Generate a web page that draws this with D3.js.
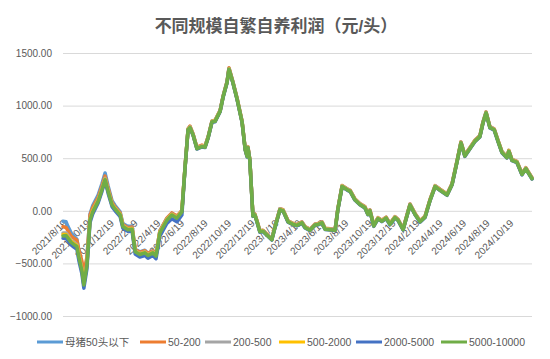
<!DOCTYPE html>
<html><head><meta charset="utf-8">
<script src="https://cdn.jsdelivr.net/npm/d3@7"></script>
<style>
body{margin:0;background:#fff}
svg{display:block}
text{font-family:"Liberation Sans","Noto Sans CJK SC",sans-serif}
</style>
</head><body><svg id="c" width="550" height="359"></svg>
<script>
const dates = [
"2021-08-19","2021-08-27","2021-09-01","2021-09-09","2021-09-16","2021-09-24","2021-09-29","2021-10-07","2021-10-12","2021-10-20",
"2021-10-28","2021-11-04","2021-11-18","2021-11-28","2021-12-06","2021-12-14","2021-12-24","2022-01-01","2022-01-14","2022-01-21",
"2022-02-03","2022-02-14","2022-02-22","2022-03-06","2022-03-19","2022-03-27","2022-04-09","2022-04-17","2022-04-27","2022-05-15",
"2022-05-28","2022-06-10","2022-06-23","2022-07-01","2022-07-09","2022-07-14","2022-07-22","2022-08-01","2022-08-14","2022-08-22",
"2022-08-30","2022-09-09","2022-09-17","2022-09-30","2022-10-08","2022-10-18","2022-10-23","2022-11-02","2022-11-13","2022-11-26",
"2022-12-04","2022-12-09","2022-12-11","2022-12-16","2022-12-24","2022-12-29","2023-01-04","2023-01-11","2023-01-19","2023-01-29",
"2023-02-11","2023-02-19","2023-03-04","2023-03-12","2023-03-25","2023-04-07","2023-04-17","2023-04-30","2023-05-08","2023-05-21",
"2023-06-03","2023-06-11","2023-06-21","2023-06-29","2023-07-12","2023-07-25","2023-08-01","2023-08-12","2023-08-25","2023-09-02",
"2023-09-14","2023-09-27","2023-10-10","2023-10-18","2023-10-23","2023-11-02","2023-11-13","2023-11-23","2023-12-04","2023-12-14",
"2023-12-27","2024-01-04","2024-01-17","2024-02-04","2024-02-17","2024-03-01","2024-03-14","2024-03-27","2024-04-09","2024-04-22",
"2024-05-10","2024-05-23","2024-06-05","2024-06-15","2024-06-25","2024-07-08","2024-07-21","2024-08-03","2024-08-11","2024-08-19",
"2024-08-29","2024-09-09","2024-09-19","2024-09-29","2024-10-12","2024-10-17","2024-10-25","2024-11-07","2024-11-20","2024-11-30",
"2024-12-16"];

const seriesNames = ["母猪50头以下","50-200","200-500","500-2000","2000-5000","5000-10000"];
const seriesColors = ["#5B9BD5","#ED7D31","#A5A5A5","#FFC000","#4472C4","#70AD47"];

const sBelow50 = [
-100,-105,-150,-210,-240,-270,-380,-510,-650,-460,
-30,50,150,260,360,235,95,50,-10,-120,
-150,-145,-365,-390,-375,-405,-380,-410,-190,-75,
-25,-60,0,405,775,800,725,595,615,610,
700,850,855,950,1090,1225,1355,1225,1065,845,
585,520,605,485,-45,-35,-105,-195,-190,-225,
-270,-155,15,5,-100,-125,-135,-110,-155,-180,
-130,-125,-110,-170,-175,-180,15,235,205,190,
110,65,35,-30,5,-140,-70,-95,-65,-125,
-60,-85,-175,60,-30,-100,-55,105,235,200,
155,255,475,650,525,595,665,710,840,935,
795,775,665,560,510,570,485,465,350,405,
310];
const s50_200 = [
-150,-160,-190,-240,-260,-280,-370,-480,-600,-440,
-40,30,125,235,330,215,80,35,-20,-130,
-160,-155,-370,-395,-380,-405,-380,-410,-190,-70,
-20,-50,5,410,780,805,730,605,625,615,
705,855,860,955,1095,1230,1360,1230,1070,850,
590,525,610,490,-40,-30,-100,-190,-185,-220,
-265,-150,20,10,-95,-120,-130,-105,-150,-175,
-125,-120,-105,-165,-170,-175,20,240,210,195,
115,70,40,-25,10,-135,-65,-90,-60,-120,
-55,-80,-170,65,-25,-95,-50,110,240,205,
160,260,480,655,530,600,670,715,845,940,
800,780,670,565,515,575,490,470,355,410,
315];
const s200_500 = [
-210,-210,-235,-280,-300,-320,-420,-550,-690,-500,
-75,5,105,215,310,195,65,25,-30,-140,
-170,-165,-380,-405,-390,-415,-390,-420,-200,-80,
-30,-60,0,408,778,798,728,598,618,613,
703,853,858,953,1093,1228,1353,1228,1068,848,
588,523,608,488,-42,-32,-102,-192,-187,-222,
-267,-152,18,8,-97,-122,-132,-107,-152,-177,
-127,-122,-107,-167,-172,-177,18,238,208,193,
113,68,38,-27,8,-137,-67,-92,-62,-122,
-57,-82,-172,63,-27,-97,-52,108,238,203,
158,258,478,653,528,598,668,713,843,938,
798,778,668,563,513,573,488,468,353,408,
313];
const s500_2000 = [
-225,-225,-250,-290,-310,-330,-430,-560,-700,-510,
-85,0,95,205,300,185,60,20,-35,-145,
-175,-170,-385,-410,-395,-420,-395,-425,-205,-85,
-35,-65,-5,403,773,793,723,593,613,608,
698,848,853,948,1088,1223,1348,1223,1063,843,
583,518,603,483,-47,-37,-107,-197,-192,-227,
-272,-157,13,3,-102,-127,-137,-112,-157,-182,
-132,-127,-112,-172,-177,-182,13,233,203,188,
108,63,33,-32,3,-142,-72,-97,-67,-127,
-62,-87,-177,58,-32,-102,-57,103,233,198,
153,253,473,648,523,593,663,708,838,933,
793,773,663,558,508,568,483,463,348,403,
308];
const s2000_5000 = [
-260,-260,-285,-325,-345,-365,-470,-600,-735,-550,
-110,-30,75,185,285,165,40,0,-55,-165,
-195,-195,-410,-440,-425,-450,-425,-455,-240,-120,
-75,-105,-40,397,767,787,717,587,607,602,
692,842,847,942,1082,1217,1342,1217,1057,837,
577,512,597,477,-53,-43,-113,-203,-198,-233,
-278,-163,7,-3,-108,-133,-143,-118,-163,-188,
-138,-133,-118,-178,-183,-188,7,227,197,182,
102,57,27,-38,-3,-148,-78,-103,-73,-133,
-68,-93,-183,52,-38,-108,-63,97,227,192,
147,247,467,642,517,587,657,702,832,927,
787,767,657,552,502,562,477,457,342,397,
302];
const s5000_10000 = [
-240,-235,-260,-300,-320,-340,-440,-570,-705,-520,
-90,-10,90,200,295,180,55,15,-40,-150,
-180,-175,-390,-415,-400,-425,-400,-430,-210,-90,
-40,-70,-10,400,770,790,720,590,610,605,
695,845,850,945,1085,1220,1345,1220,1060,840,
580,515,600,480,-50,-40,-110,-200,-195,-230,
-275,-160,10,0,-105,-130,-140,-115,-160,-185,
-135,-130,-115,-175,-180,-185,10,230,200,185,
105,60,30,-35,0,-145,-75,-100,-70,-130,
-65,-90,-180,55,-35,-105,-60,100,230,195,
150,250,470,645,520,590,660,705,835,930,
790,770,660,555,505,565,480,460,345,400,
305];

const yTicks = [-1000,-500,0,500,1000,1500];
const xTickLabels = ["2021/8/19","2021/10/19","2021/12/19","2022/2/19","2022/4/19","2022/6/19","2022/8/19","2022/10/19","2022/12/19","2023/2/19","2023/4/19","2023/6/19","2023/8/19","2023/10/19","2023/12/19","2024/2/19","2024/4/19","2024/6/19","2024/8/19","2024/10/19"];
const titleText = "不同规模自繁自养利润（元/头）";

const allSeries = [sBelow50, s50_200, s200_500, s500_2000, s2000_5000, s5000_10000];

const svg = d3.select("#c");
const parse = d3.timeParse("%Y-%m-%d");
const parseTick = d3.timeParse("%Y/%m/%d");
const L = 63, R = 532, T = 53, B = 316;
const x = d3.scaleTime().domain([parse(dates[0]), parse(dates[dates.length-1])]).range([L, R]);
const y = d3.scaleLinear().domain([-1000, 1500]).range([B, T]);

svg.append("text").attr("x", 276).attr("y", 32).attr("text-anchor","middle")
  .attr("font-size","17px").attr("font-weight","bold").attr("fill","#595959").text(titleText);

// y axis + gridlines
const gy = svg.append("g").attr("transform",`translate(${L},0)`)
  .call(d3.axisLeft(y).tickValues(yTicks).tickSize(-(R-L)).tickPadding(11).tickFormat(d3.format(".2f")));
gy.select(".domain").remove();
gy.selectAll(".tick line").attr("stroke","#D9D9D9").attr("stroke-width",1);
gy.selectAll(".tick text").attr("fill","#595959").attr("font-size","10px")
  .style("font-family",'"Liberation Sans",sans-serif');

// x axis labels
const gx = svg.append("g").attr("transform",`translate(0,${y(0)})`)
  .call(d3.axisBottom(x).tickValues(xTickLabels.map(parseTick)).tickSize(0)
    .tickFormat((d,i)=>xTickLabels[i]));
gx.select(".domain").remove();
gx.selectAll(".tick text").attr("fill","#595959").attr("font-size","10px")
  .attr("x",0).attr("y",0).attr("dy","0").attr("text-anchor","end")
  .attr("transform","translate(4,13) rotate(-45)")
  .style("font-family",'"Liberation Sans",sans-serif');

// series
const line = d3.line().x((d,i)=>x(parse(dates[i]))).y(d=>y(d));
allSeries.forEach((vals,k)=>{
  svg.append("path").datum(vals).attr("d",line).attr("fill","none")
    .attr("stroke",seriesColors[k]).attr("stroke-width",3.5)
    .attr("stroke-linejoin","round").attr("stroke-linecap","round");
});

// legend
const legendX = [37,140,205,279,356,441];
const lg = svg.append("g").attr("transform","translate(0,342)");
seriesNames.forEach((n,k)=>{
  const g = lg.append("g").attr("transform",`translate(${legendX[k]},0)`);
  g.append("line").attr("x1",0).attr("x2",26).attr("y1",0).attr("y2",0)
    .attr("stroke",seriesColors[k]).attr("stroke-width",3);
  g.append("text").attr("x",28).attr("y",0).attr("dy","0.35em")
    .attr("font-size","10.5px").attr("fill","#595959").text(n);
});
</script>
</body></html>
